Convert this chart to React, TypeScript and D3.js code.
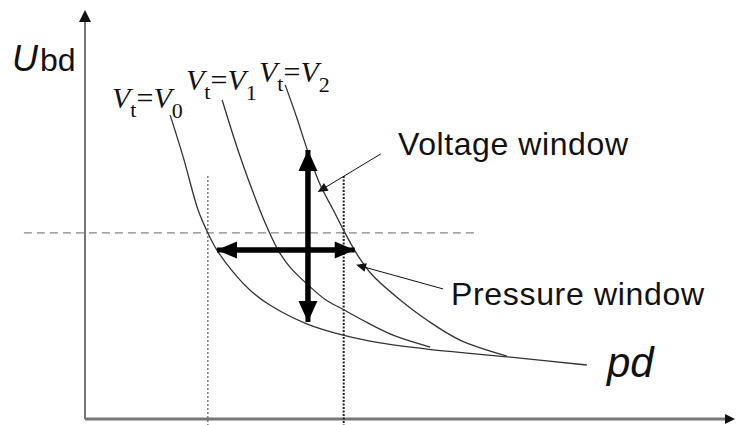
import React from "react";
import * as d3 from "d3";

// Breakdown-voltage curves U_bd(pd) for three trigger voltages
const curveNames = ["0", "1", "2"];
const v0Pd = [1.31, 1.51, 1.74, 1.89, 2.03, 2.28, 2.54, 2.85, 3.42, 3.97, 4.54, 5.26, 6.49, 7.72];
const v0U = [7.43, 6.41, 5.11, 4.55, 4.13, 3.59, 3.15, 2.78, 2.32, 2.05, 1.86, 1.71, 1.52, 1.32];
const v1Pd = [2.11, 2.38, 2.69, 2.82, 2.97, 3.15, 3.43, 3.69, 3.98, 4.35, 4.77, 5.31];
const v1U = [7.8, 6.45, 5.11, 4.62, 4.13, 3.72, 3.28, 2.93, 2.67, 2.35, 2.03, 1.76];
const v2Pd = [3.08, 3.26, 3.42, 3.62, 3.82, 4.0, 4.2, 4.42, 4.85, 5.26, 5.77, 6.49];
const v2U = [8.17, 7.36, 6.58, 5.72, 5.11, 4.55, 3.99, 3.52, 2.91, 2.42, 1.93, 1.54];

// Operating point and window extents
const operatingU = 4.55;
const refLineExtent = [-0.94, 6.0];
const windowPd = [1.89, 3.98];
const windowLineU = [5.94, -0.15];
const voltageArrowPd = 3.43;
const voltageArrowU = [2.37, 6.58];
const pressureArrowU = 4.13;
const pressureArrowPd = [2.03, 4.15];
const voltagePointer = [[4.55, 6.48], [3.58, 5.55]];
const pressurePointer = [[5.51, 3.18], [4.17, 3.77]];

const W = 736;
const H = 425;

const x = d3.scaleLinear().domain([0, 10]).range([85, 735]);
const y = d3.scaleLinear().domain([0, 10]).range([419, 10]);

const line = d3
  .line<[number, number]>()
  .x((d) => x(d[0]))
  .y((d) => y(d[1]))
  .curve(d3.curveCatmullRom.alpha(0.5));

const zip = (a: number[], b: number[]): [number, number][] => a.map((v, i) => [v, b[i]]);

const curves = [zip(v0Pd, v0U), zip(v1Pd, v1U), zip(v2Pd, v2U)];

// Line with a filled triangular head at the (x2, y2) end
function Arrow({ x1, y1, x2, y2, width, headLen, headW, color }: any) {
  const dx = x2 - x1;
  const dy = y2 - y1;
  const len = Math.hypot(dx, dy);
  const ux = dx / len;
  const uy = dy / len;
  const bx = x2 - ux * headLen;
  const by = y2 - uy * headLen;
  const px = -uy * (headW / 2);
  const py = ux * (headW / 2);
  const lx = x2 - ux * (headLen * 0.6);
  const ly = y2 - uy * (headLen * 0.6);
  return (
    <g>
      <line x1={x1} y1={y1} x2={lx} y2={ly} stroke={color} strokeWidth={width} />
      <path d={`M${x2},${y2}L${bx + px},${by + py}L${bx - px},${by - py}Z`} fill={color} />
    </g>
  );
}

const labelPos = [
  { x: 112, y: 108 },
  { x: 186, y: 90 },
  { x: 259, y: 82 },
];

export default function App() {
  const x0 = x(0);
  const y0 = y(0);
  return (
    <svg
      width={W}
      height={H}
      style={{ position: "absolute", left: 0, top: 0, background: "#fff" }}
    >
      <rect width={W} height={H} fill="#fff" />

      {/* axes */}
      <line x1={x0} y1={y0} x2={x0} y2={22} stroke="#777" strokeWidth={2} />
      <path d={`M${x0},10L${x0 - 6},22L${x0 + 6},22Z`} fill="#111" />
      <line x1={x0} y1={y0} x2={727} y2={y0} stroke="#777" strokeWidth={3} />
      <path d={`M735,${y0}L725,${y0 - 5}L725,${y0 + 5}Z`} fill="#111" />

      {/* operating level */}
      <line
        x1={x(refLineExtent[0])}
        x2={x(refLineExtent[1])}
        y1={y(operatingU)}
        y2={y(operatingU)}
        stroke="#888"
        strokeWidth={1.2}
        strokeDasharray="8,5"
      />
      {/* pressure window bounds */}
      <line
        x1={x(windowPd[0])}
        x2={x(windowPd[0])}
        y1={y(windowLineU[0])}
        y2={y(windowLineU[1])}
        stroke="#666"
        strokeWidth={1.3}
        strokeDasharray="2,2"
      />
      <line
        x1={x(windowPd[1])}
        x2={x(windowPd[1])}
        y1={y(windowLineU[0])}
        y2={y(windowLineU[1])}
        stroke="#222"
        strokeWidth={2}
        strokeDasharray="2,1.5"
      />

      {/* curves */}
      {curves.map((c, i) => (
        <path key={i} d={line(c) || ""} fill="none" stroke="#333" strokeWidth={1.3} />
      ))}

      {/* window arrows */}
      <Arrow
        x1={x(voltageArrowPd)}
        y1={y(voltageArrowU[0])}
        x2={x(voltageArrowPd)}
        y2={y(voltageArrowU[1])}
        width={5}
        headLen={21}
        headW={19}
        color="#000"
      />
      <Arrow
        x1={x(voltageArrowPd)}
        y1={y(voltageArrowU[1])}
        x2={x(voltageArrowPd)}
        y2={y(voltageArrowU[0])}
        width={5}
        headLen={21}
        headW={19}
        color="#000"
      />
      <Arrow
        x1={x(pressureArrowPd[1])}
        y1={y(pressureArrowU)}
        x2={x(pressureArrowPd[0])}
        y2={y(pressureArrowU)}
        width={5}
        headLen={20}
        headW={17}
        color="#000"
      />
      <Arrow
        x1={x(pressureArrowPd[0])}
        y1={y(pressureArrowU)}
        x2={x(pressureArrowPd[1])}
        y2={y(pressureArrowU)}
        width={5}
        headLen={20}
        headW={17}
        color="#000"
      />

      {/* annotation pointers */}
      <Arrow
        x1={x(voltagePointer[0][0])}
        y1={y(voltagePointer[0][1])}
        x2={x(voltagePointer[1][0])}
        y2={y(voltagePointer[1][1])}
        width={1}
        headLen={10}
        headW={9}
        color="#111"
      />
      <Arrow
        x1={x(pressurePointer[0][0])}
        y1={y(pressurePointer[0][1])}
        x2={x(pressurePointer[1][0])}
        y2={y(pressurePointer[1][1])}
        width={1}
        headLen={10}
        headW={9}
        color="#111"
      />

      {/* texts */}
      <text x={398} y={155} fontFamily="Liberation Sans, Arial, sans-serif" fontSize={32} textLength={230} fill="#111">
        Voltage window
      </text>
      <text x={451} y={305} fontFamily="Liberation Sans, Arial, sans-serif" fontSize={32} textLength={253} fill="#111">
        Pressure window
      </text>

      <text x={12} y={71} fontFamily="Liberation Sans, Arial, sans-serif" fill="#111">
        <tspan fontStyle="italic" fontSize={36}>U</tspan>
        <tspan fontSize={32} dx={2}>bd</tspan>
      </text>
      <text x={607} y={377} fontFamily="Liberation Sans, Arial, sans-serif" fontStyle="italic" fontSize={42} fill="#111">
        pd
      </text>

      {curveNames.map((n, i) => (
        <text key={n} x={labelPos[i].x} y={labelPos[i].y} fontFamily="Liberation Serif, Times New Roman, serif" fontSize={30} fill="#111">
          <tspan fontStyle="italic">V</tspan>
          <tspan fontSize={22} dy={9}>t</tspan>
          <tspan dy={-9}>=</tspan>
          <tspan fontStyle="italic">V</tspan>
          <tspan fontSize={22} dy={10}>{n}</tspan>
        </text>
      ))}
    </svg>
  );
}
